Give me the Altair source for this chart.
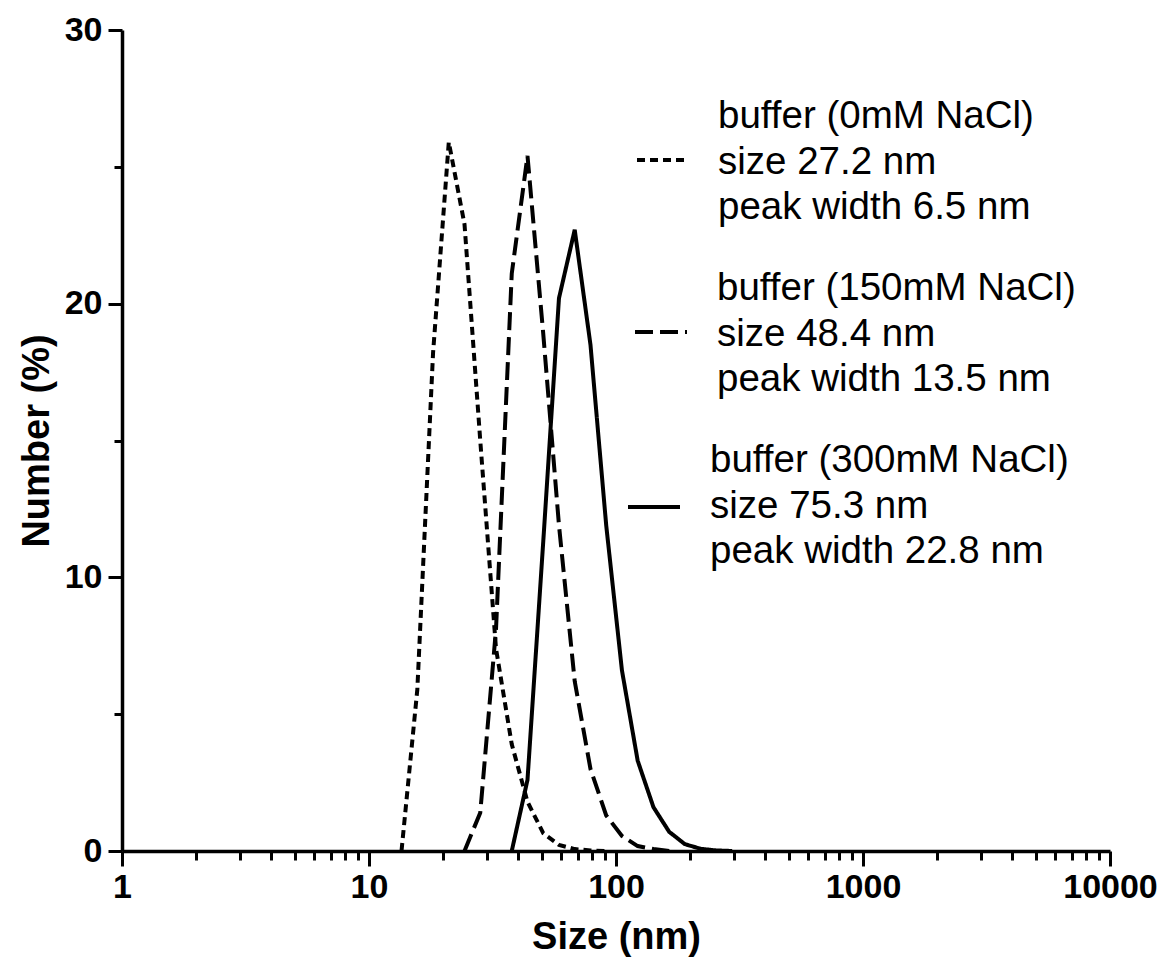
import altair as alt
import pandas as pd

# --- data (DLS number distributions, log-spaced size bins) ---
sizes_0 = [13.54, 15.69, 18.17, 21.04, 24.36, 28.21, 32.67, 37.84, 43.82, 50.75, 58.77, 68.06, 78.82, 91.28]
number_0 = [0, 5.9, 18.2, 25.9, 22.9, 15.0, 7.4, 3.9, 1.8, 0.65, 0.22, 0.07, 0.02, 0]

sizes_150 = [24.36, 28.21, 32.67, 37.84, 43.82, 50.75, 58.77, 68.06, 78.82, 91.28, 105.7, 122.4, 141.8, 164.2]
number_150 = [0, 1.4, 8.1, 21.1, 25.4, 18.9, 11.9, 6.2, 3.0, 1.3, 0.55, 0.18, 0.07, 0]

sizes_300 = [37.84, 43.82, 50.75, 58.77, 68.06, 78.82, 91.28, 105.7, 122.4, 141.8, 164.2, 190.1, 220.2, 255.0, 295.3]
number_300 = [0, 2.6, 11.3, 20.2, 22.7, 18.5, 11.9, 6.6, 3.3, 1.6, 0.7, 0.25, 0.08, 0.02, 0]

series_names = ["0mM NaCl", "150mM NaCl", "300mM NaCl"]
legend_lines = [
    ["buffer (0mM NaCl)", "size 27.2 nm", "peak width 6.5 nm"],
    ["buffer (150mM NaCl)", "size 48.4 nm", "peak width 13.5 nm"],
    ["buffer (300mM NaCl)", "size 75.3 nm", "peak width 22.8 nm"],
]
dash_styles = [[8, 5], [18, 7], [1, 0]]

x_major = [1, 10, 100, 1000, 10000]
x_ticks = [m * 10 ** k for k in range(4) for m in range(1, 10)] + [10000]
y_ticks = [0, 5, 10, 15, 20, 25, 30]

rows = []
for name, xs, ys in zip(series_names, [sizes_0, sizes_150, sizes_300], [number_0, number_150, number_300]):
    for i, (xv, yv) in enumerate(zip(xs, ys)):
        rows.append({"series": name, "size": xv, "number": yv, "order": i})
df = pd.DataFrame(rows)

major_test = "indexof([1, 10, 100, 1000, 10000], datum.value) >= 0"

x_axis = alt.Axis(
    values=x_ticks,
    format="d",
    labelExpr=f"{major_test} ? datum.label : ''",
    tickSize={"condition": {"test": major_test, "value": 15}, "value": 9},
    labelOverlap=False,
    labelFlush=False,
    grid=False,
    domainColor="black",
    domainWidth=3.5,
    tickColor="black",
    tickWidth=3,
    labelFont="Liberation Sans",
    labelFontWeight="bold",
    labelFontSize=34,
    labelColor="black",
    labelPadding=4,
    titleFont="Liberation Sans",
    titleFontWeight="bold",
    titleFontSize=38,
    titleColor="black",
    titlePadding=14,
)

y_axis = alt.Axis(
    values=y_ticks,
    labelExpr="datum.value % 10 == 0 ? datum.label : ''",
    tickSize={"condition": {"test": "datum.value % 10 == 0", "value": 14}, "value": 8},
    labelOverlap=False,
    labelFlush=False,
    grid=False,
    domainColor="black",
    domainWidth=3.5,
    tickColor="black",
    tickWidth=3,
    labelFont="Liberation Sans",
    labelFontWeight="bold",
    labelFontSize=34,
    labelColor="black",
    labelPadding=6,
    titleFont="Liberation Sans",
    titleFontWeight="bold",
    titleFontSize=38,
    titleColor="black",
    titlePadding=8,
)

lines = (
    alt.Chart(df)
    .mark_line(strokeWidth=4, color="black")
    .encode(
        x=alt.X("size:Q", scale=alt.Scale(type="log", domain=[1, 10000], nice=False), axis=x_axis, title="Size (nm)"),
        y=alt.Y("number:Q", scale=alt.Scale(domain=[0, 30], nice=False), axis=y_axis, title="Number (%)"),
        strokeDash=alt.StrokeDash(
            "series:N",
            scale=alt.Scale(domain=series_names, range=dash_styles),
            legend=None,
        ),
        detail="series:N",
        order="order:Q",
    )
)

# hand-drawn legend (swatch + three-line label per series), placed in pixels of the plot area
swatch_x = [515, 513, 506]
swatch_y = [130, 302, 477]
text_x = [596, 595, 588]
text_y = [86, 258, 430]
one_row = alt.InlineData(values=[{"k": 0}])

layers = [lines]
for i in range(3):
    layers.append(
        alt.Chart(one_row)
        .mark_rule(strokeWidth=4, color="black", strokeDash=dash_styles[i])
        .encode(x=alt.value(swatch_x[i]), x2=alt.value(swatch_x[i] + 52), y=alt.value(swatch_y[i]))
    )
    layers.append(
        alt.Chart(one_row)
        .mark_text(
            align="left",
            baseline="middle",
            font="Liberation Sans",
            fontSize=38.5,
            lineHeight=45.5,
            color="black",
        )
        .encode(text=alt.value(legend_lines[i]), x=alt.value(text_x[i]), y=alt.value(text_y[i]))
    )

chart = (
    alt.layer(*layers)
    .properties(
        width=988,
        height=821,
        autosize=alt.AutoSizeParams(type="none"),
        padding={"left": 114, "top": 22, "right": 47, "bottom": 106},
        background="white",
    )
    .configure_view(stroke="transparent")
)

chart.save("out.html", embed_options={"renderer": "svg", "actions": False})
